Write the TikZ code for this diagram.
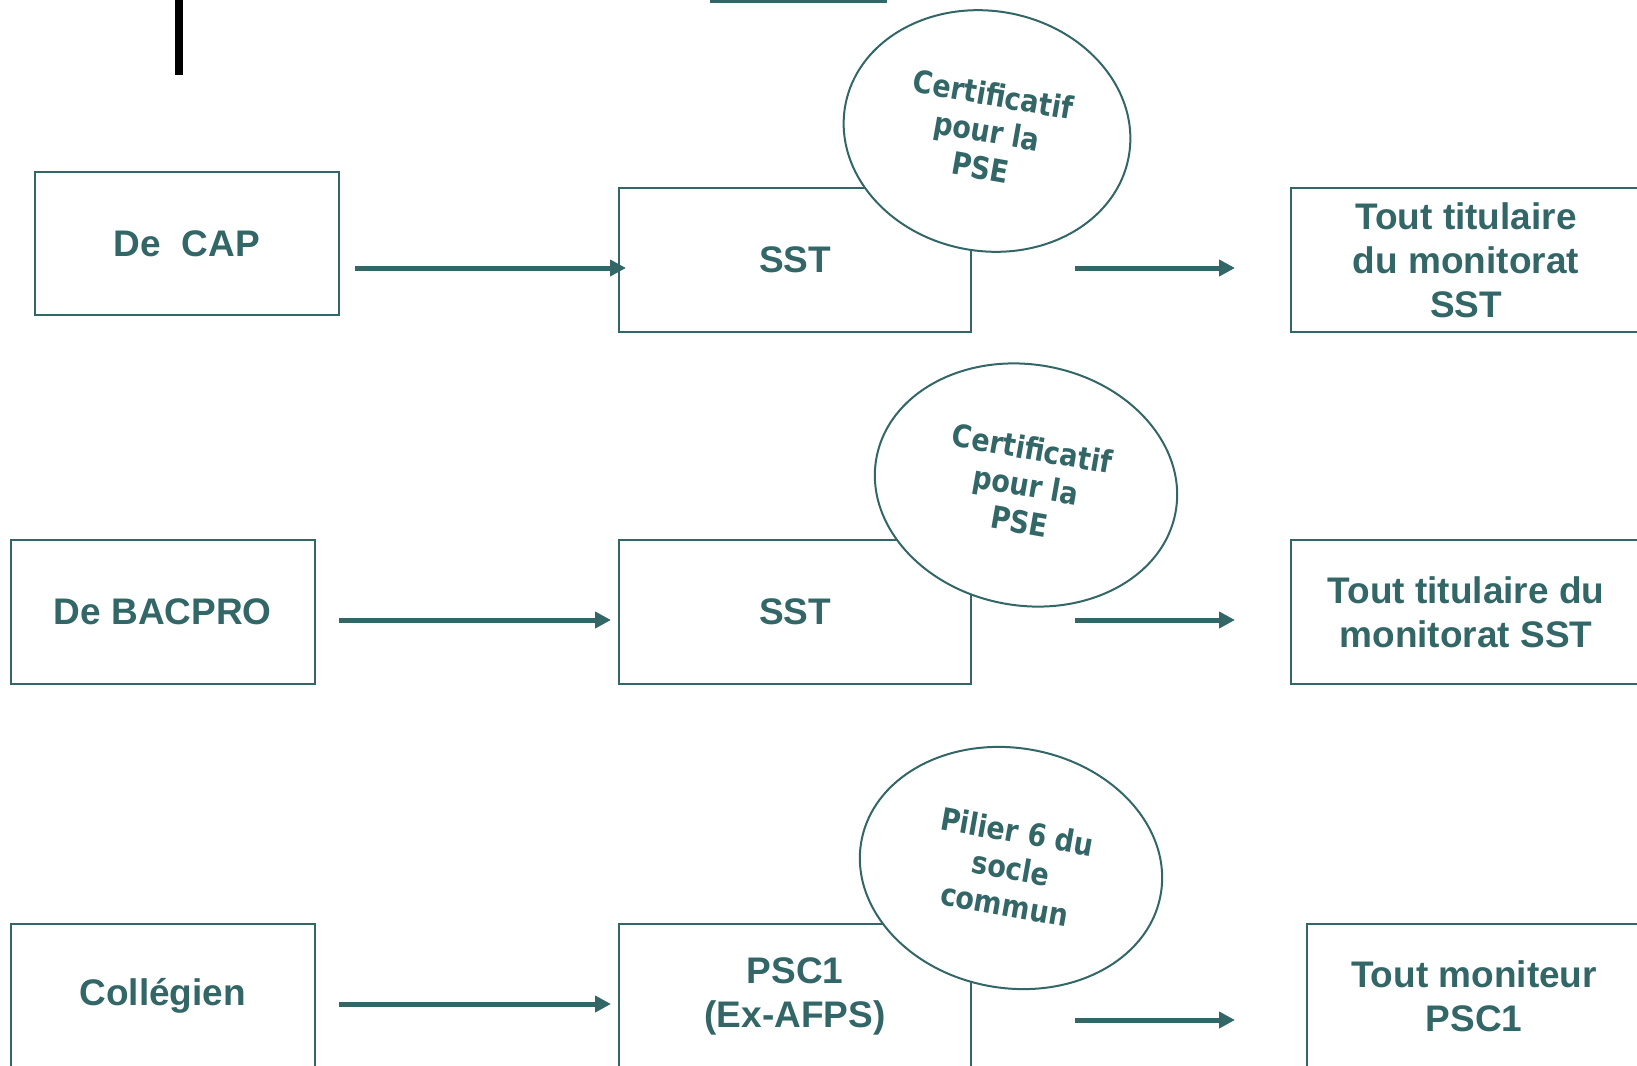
\documentclass[tikz,border=0pt]{standalone}
\usepackage{fontspec}
\setmainfont{Liberation Sans}
\newfontfamily\ellfont[FakeStretch=0.87]{DejaVu Sans}
\usetikzlibrary{shapes.geometric,arrows.meta}
\definecolor{teal1}{HTML}{336666}
\tikzset{
  box/.style={draw=teal1, line width=2pt, fill=white, text=teal1, align=center,
    inner sep=0pt, font=\fontsize{37}{44}\selectfont\bfseries},
  bubble/.style={ellipse, draw=teal1, line width=2pt, fill=white, text=teal1,
    align=center, inner sep=0pt, rotate=-10,
    font=\ellfont\fontsize{31}{37}\selectfont\bfseries},
  arr/.style={draw=teal1, line width=5pt, -{Triangle[length=16pt,width=16pt]}}
}
\begin{document}
\begin{tikzpicture}[x=1pt,y=-1pt]
\path[use as bounding box, fill=white] (0,0) rectangle (1637,1065);
\clip (0,0) rectangle (1637,1065);
% top marks
\fill[black] (175,0) rectangle (183,75);
\fill[teal1] (710,0) rectangle (887,3);
% row 1
\node[box, minimum width=304.5pt, minimum height=143pt] (cap) at (186.75,243.5) {De\ \ CAP};
\node[box, minimum width=352pt, minimum height=144pt] (sst1) at (795,260) {SST};
\node[box, minimum width=350pt, minimum height=144pt] (tit1) at (1466,260) {Tout titulaire\\du monitorat\\SST};
\node[bubble, minimum width=288pt, minimum height=240pt] (e1) at (987,131) {Certificatif\\pour la\\PSE};
% row 2
\node[box, minimum width=304.5pt, minimum height=144pt] (bac) at (162.75,612) {De BACPRO};
\node[box, minimum width=352pt, minimum height=144pt] (sst2) at (795,612) {SST};
\node[box, minimum width=350pt, minimum height=144pt] (tit2) at (1466,612) {Tout titulaire du\\monitorat SST};
\node[bubble, minimum width=304pt, minimum height=241pt] (e2) at (1026,485) {Certificatif\\pour la\\PSE};
% row 3
\node[box, minimum width=304.5pt, minimum height=144pt] (col) at (162.75,996) {Collégien};
\node[box, minimum width=352pt, minimum height=144pt] (psc) at (795,996) {PSC1\\(Ex-AFPS)};
\node[box, minimum width=334pt, minimum height=144pt] (mon) at (1474,996) {Tout moniteur\\PSC1};
\node[bubble, minimum width=304pt, minimum height=240pt] (e3) at (1011,868) {Pilier 6 du\\socle\\commun};
% arrow end points
\coordinate (a1s) at (355,268);  \coordinate (a1e) at (626,268);
\coordinate (b1s) at (1075,268); \coordinate (b1e) at (1235,268);
\coordinate (a2s) at (339,620);  \coordinate (a2e) at (611,620);
\coordinate (b2s) at (1075,620); \coordinate (b2e) at (1235,620);
\coordinate (a3s) at (339,1004); \coordinate (a3e) at (611,1004);
\coordinate (b3s) at (1075,1020); \coordinate (b3e) at (1235,1020);
\draw[arr] (a1s) -- (a1e);
\draw[arr] (b1s) -- (b1e);
\draw[arr] (a2s) -- (a2e);
\draw[arr] (b2s) -- (b2e);
\draw[arr] (a3s) -- (a3e);
\draw[arr] (b3s) -- (b3e);
\end{tikzpicture}
\end{document}
